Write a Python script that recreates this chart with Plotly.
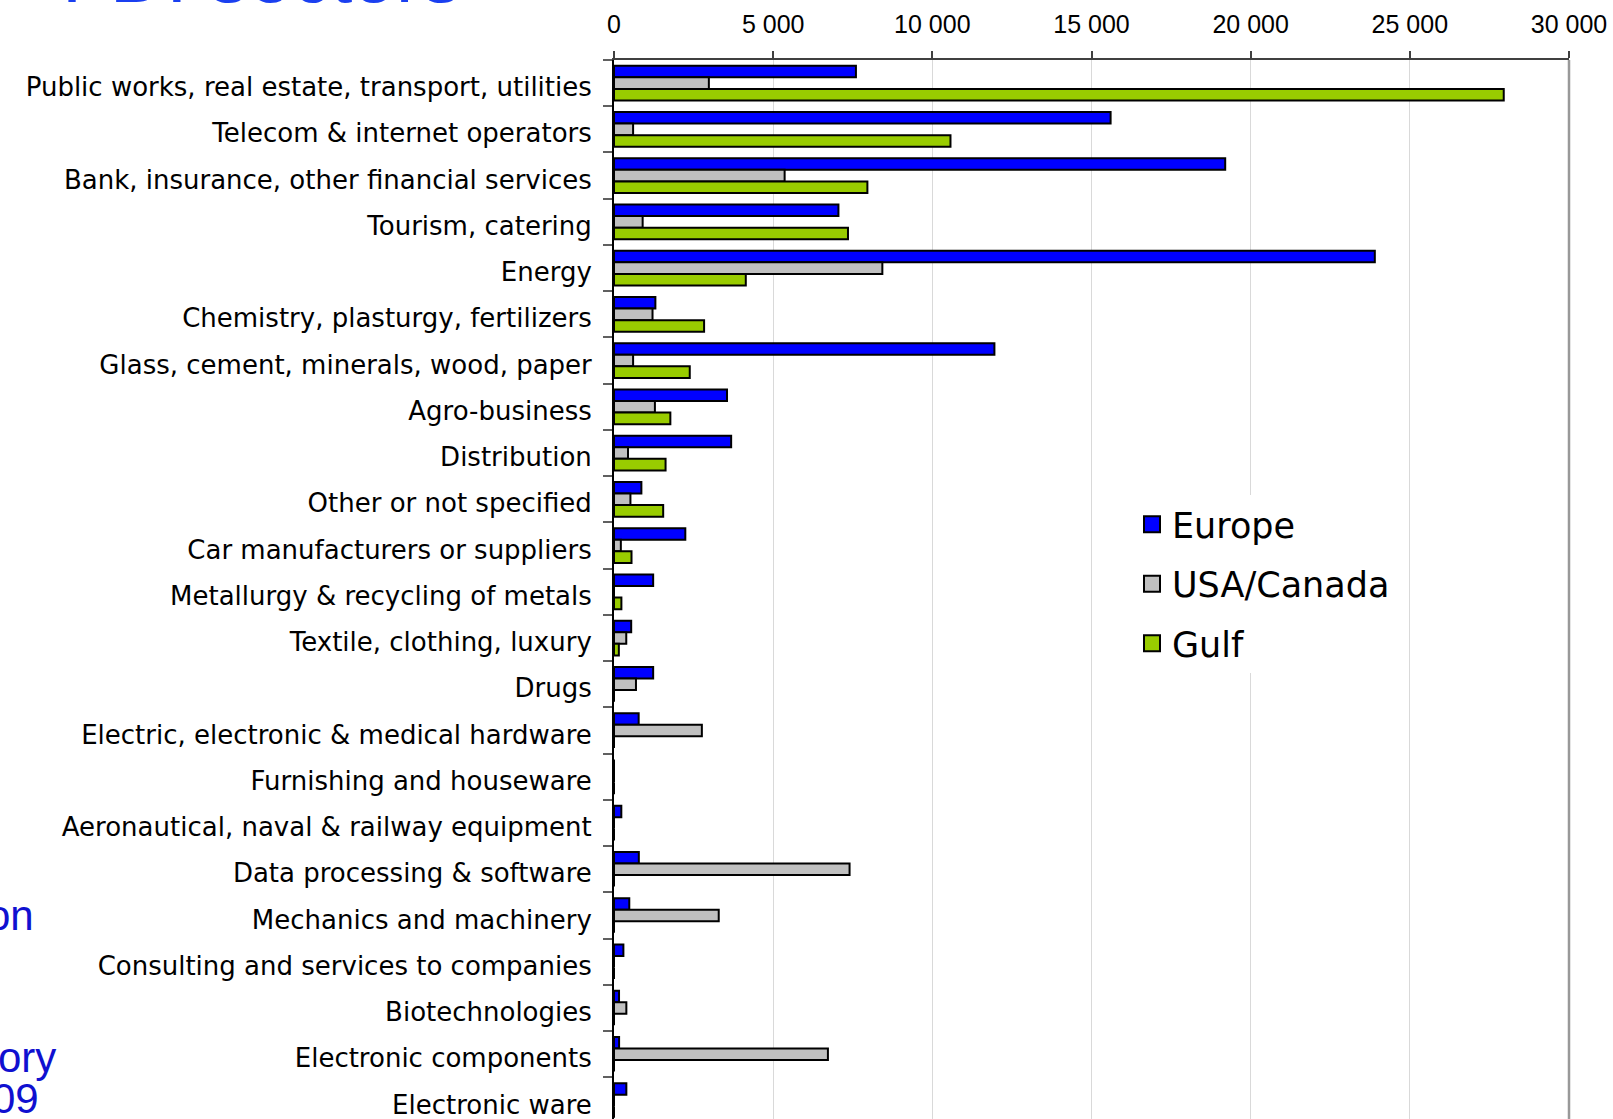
import plotly.graph_objects as go

categories = [
    "Public works, real estate, transport, utilities",
    "Telecom & internet operators",
    "Bank, insurance, other financial services",
    "Tourism, catering",
    "Energy",
    "Chemistry, plasturgy, fertilizers",
    "Glass, cement, minerals, wood, paper",
    "Agro-business",
    "Distribution",
    "Other or not specified",
    "Car manufacturers or suppliers",
    "Metallurgy & recycling of metals",
    "Textile, clothing, luxury",
    "Drugs",
    "Electric, electronic & medical hardware",
    "Furnishing and houseware",
    "Aeronautical, naval & railway equipment",
    "Data processing & software",
    "Mechanics and machinery",
    "Consulting and services to companies",
    "Biotechnologies",
    "Electronic components",
    "Electronic ware",
]

europe = [7600, 15600, 19200, 7050, 23900, 1300, 11950, 3550, 3680, 860, 2240, 1230,
          540, 1230, 775, 0, 230, 780, 480, 295, 158, 160, 388]
usa_canada = [2980, 600, 5360, 900, 8430, 1210, 600, 1285, 440, 516, 215, 0,
              385, 690, 2760, 0, 0, 7400, 3290, 0, 388, 6720, 0]
gulf = [27950, 10570, 7960, 7350, 4140, 2830, 2380, 1770, 1620, 1545, 550, 232,
        152, 0, 0, 0, 0, 0, 0, 0, 0, 0, 0]

series_names = ["Europe", "USA/Canada", "Gulf"]
series_colors = ["#0000FF", "#C0C0C0", "#99CC00"]
series_values = [europe, usa_canada, gulf]

x_tickvals = [0, 5000, 10000, 15000, 20000, 25000, 30000]
x_ticktext = ["0", "5 000", "10 000", "15 000", "20 000", "25 000", "30 000"]

fig = go.Figure()
for name, color, vals in zip(series_names, series_colors, series_values):
    fig.add_trace(go.Bar(
        x=vals, y=categories, orientation="h", name=name,
        marker=dict(color=color, line=dict(color="black", width=2)),
        showlegend=False,
    ))
for i, (name, color) in enumerate(zip(series_names, series_colors)):
    fig.add_trace(go.Scatter(
        x=[None], y=[None], mode="markers", name=name, legendgroup=f"g{i}",
        marker=dict(symbol="square", size=16, color=color, line=dict(color="black", width=2)),
        showlegend=True,
    ))

fig.update_layout(
    width=1613, height=1119,
    margin=dict(l=614, r=44, t=60, b=0),
    paper_bgcolor="white", plot_bgcolor="white",
    barmode="group", bargap=0.25, bargroupgap=0,
    font=dict(family="DejaVu Sans", color="black"),
    showlegend=True,
    legend=dict(
        x=(1132 - 614) / 955, xanchor="left",
        y=1 - (495 - 60) / 1059, yanchor="top",
        bgcolor="white", borderwidth=0,
        font=dict(family="DejaVu Sans", size=35, color="black"),
        tracegroupgap=11, itemsizing="trace",
    ),
    xaxis=dict(
        side="top", range=[0, 30000], tickvals=x_tickvals, ticktext=x_ticktext,
        showgrid=True, gridcolor="#D9D9D9", gridwidth=1,
        ticks="outside", ticklen=7, tickcolor="#404040", tickwidth=1.5,
        showline=True, linecolor="#404040", linewidth=1.5, zeroline=False,
        tickfont=dict(family="Liberation Sans", size=25, color="black"),
        ticklabelstandoff=8,
        fixedrange=True,
    ),
    yaxis=dict(
        type="category", categoryorder="array", categoryarray=categories,
        range=[22.4, -0.5], tickson="boundaries",
        ticks="outside", ticklen=9, tickcolor="#606060", tickwidth=1.5,
        showline=True, linecolor="black", linewidth=2,
        showgrid=False, zeroline=False,
        tickfont=dict(family="DejaVu Sans", size=26, color="black"),
        ticklabelstandoff=15, ticklabelshift=-4,
    ),
    shapes=[dict(type="line", xref="paper", yref="paper", x0=1, x1=1, y0=0, y1=1,
                 line=dict(color="#999999", width=2.5))],
)

def py(px):
    return 1 - (px - 60) / 1059

def pxx(px):
    return (px - 614) / 955

annos = [
    dict(text="FDI sectors", x=pxx(60), xanchor="left", y=py(21), yanchor="bottom",
         font=dict(family="Liberation Sans", size=78, color="#1a3ff0")),
    dict(text="on", x=pxx(36), xanchor="right", y=py(915), yanchor="middle",
         font=dict(family="Liberation Sans", size=42, color="#1010d0")),
    dict(text="ory", x=pxx(58), xanchor="right", y=py(1057), yanchor="middle",
         font=dict(family="Liberation Sans", size=42, color="#1010d0")),
    dict(text="09", x=pxx(41), xanchor="right", y=py(1098), yanchor="middle",
         font=dict(family="Liberation Sans", size=42, color="#1010d0")),
]
for a in annos:
    fig.add_annotation(xref="paper", yref="paper", showarrow=False, **a)

fig.write_html("out.html")
